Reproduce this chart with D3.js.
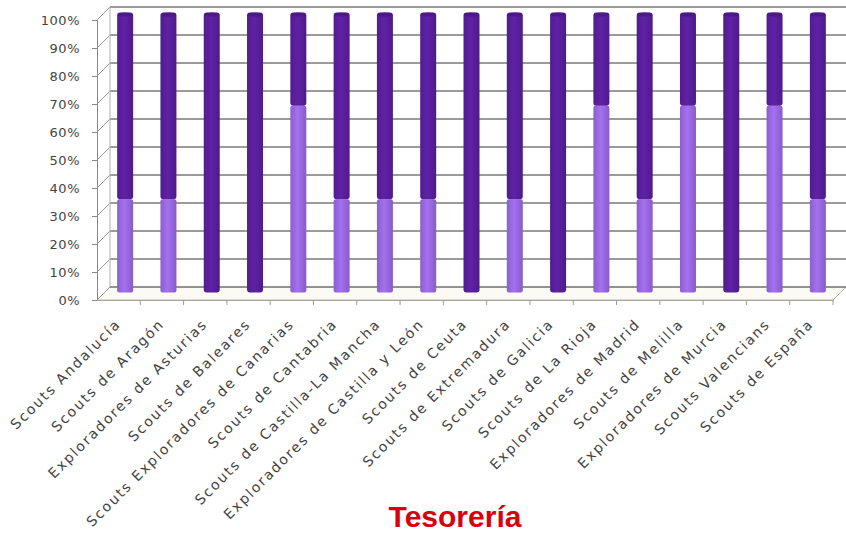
<!DOCTYPE html>
<html>
<head>
<meta charset="utf-8">
<script src="https://cdn.jsdelivr.net/npm/d3@7"></script>
<style>
  html, body { margin: 0; padding: 0; background: #fff; overflow: hidden; }
  svg { display: block; }
  .lbl { font-family: "DejaVu Sans", sans-serif; fill: #444; }
</style>
</head>
<body>
<svg id="chart" width="846" height="534"></svg>
<script>
const categories = [
  'Scouts Andalucía', 'Scouts de Aragón', 'Exploradores de Asturias', 'Scouts de Baleares',
  'Scouts Exploradores de Canarias', 'Scouts de Cantabria', 'Scouts de Castilla-La Mancha',
  'Exploradores de Castilla y León', 'Scouts de Ceuta', 'Scouts de Extremadura',
  'Scouts de Galicia', 'Scouts de La Rioja', 'Exploradores de Madrid', 'Scouts de Melilla',
  'Exploradores de Murcia', 'Scouts Valencians', 'Scouts de España'
];
const lowerValues = [33.3, 33.3, 0, 0, 66.7, 33.3, 33.3, 33.3, 0, 33.3, 0, 66.7, 33.3, 66.7, 0, 66.7, 33.3];
const upperValues = [66.7, 66.7, 100, 100, 33.3, 66.7, 66.7, 66.7, 100, 66.7, 100, 33.3, 66.7, 33.3, 100, 33.3, 66.7];
const yTicks = [0, 10, 20, 30, 40, 50, 60, 70, 80, 90, 100];
const seriesColors = ['#9c6ae4', '#5a1f9e'];

const svg = d3.select('#chart');
const mLeft = 97, mRight = 833, mBottom = 300, mTop = 20;
const depth = 13; // 3d offset of back wall

const x = d3.scaleBand().domain(categories).range([mLeft, mRight]).padding(0);
const y = d3.scaleLinear().domain([0, 100]).range([mBottom, mTop]);

const rows = categories.map((c, i) => ({ cat: c, lower: lowerValues[i], upper: upperValues[i] }));
const stacked = d3.stack().keys(['lower', 'upper'])(rows);

// floor
svg.append('path')
  .attr('d', `M${mLeft},${mBottom} L${mRight},${mBottom} L${mRight + depth},${mBottom - depth} L${mLeft + depth},${mBottom - depth} Z`)
  .attr('fill', '#fbfbf4').attr('stroke', '#b8b8b0').attr('stroke-width', 1);

// back wall gridlines and slanted side-wall lines
const grid = svg.append('g');
yTicks.forEach(t => {
  const yy = y(t);
  grid.append('line')
    .attr('x1', mLeft + depth).attr('x2', 846)
    .attr('y1', yy - depth).attr('y2', yy - depth)
    .attr('stroke', '#7a7a7a').attr('stroke-width', 1.3);
  grid.append('line')
    .attr('x1', mLeft).attr('x2', mLeft + depth)
    .attr('y1', yy).attr('y2', yy - depth)
    .attr('stroke', '#9a9a9a').attr('stroke-width', 1);
});
grid.append('line')
  .attr('x1', mLeft + depth).attr('x2', mLeft + depth)
  .attr('y1', y(0) - depth).attr('y2', y(100) - depth)
  .attr('stroke', '#b0b0b0');

// front y axis
const yAxis = d3.axisLeft(y).tickValues(yTicks).tickSize(5).tickFormat(d => d + '%');
const yg = svg.append('g').attr('transform', `translate(${mLeft},0)`).call(yAxis);
yg.select('.domain').attr('stroke', '#8a8a8a');
yg.selectAll('.tick line').attr('stroke', '#8a8a8a');
yg.selectAll('.tick text')
  .attr('class', 'lbl')
  .attr('x', -17)
  .style('font-size', '13px')
  .style('letter-spacing', '0.5px');

// front x axis
const xAxis = d3.axisBottom(x).tickSize(0).tickFormat('');
const xg = svg.append('g').attr('transform', `translate(0,${mBottom})`).call(xAxis);
xg.select('.domain').attr('stroke', '#a8a8a0');
svg.append('g').selectAll('line')
  .data(categories.slice(1).concat(['_end']))
  .join('line')
  .attr('x1', d => d === '_end' ? mRight : x(d))
  .attr('x2', d => d === '_end' ? mRight : x(d))
  .attr('y1', mBottom).attr('y2', mBottom + 5)
  .attr('stroke', '#9a9a9a');

// bars (cylinders) at half depth
const half = depth / 2;
const bw = 16;
const defs = svg.append('defs');
seriesColors.forEach((c, i) => {
  const g = defs.append('linearGradient').attr('id', 'g' + i);
  g.append('stop').attr('offset', '0%').attr('stop-color', d3.color(c).darker(0.3));
  g.append('stop').attr('offset', '45%').attr('stop-color', d3.color(c).brighter(0.15));
  g.append('stop').attr('offset', '100%').attr('stop-color', d3.color(c).darker(0.4));
});

const barG = svg.append('g');
stacked.forEach((s, si) => {
  barG.selectAll(null)
    .data(s.filter(d => d[1] - d[0] > 0))
    .join('rect')
    .attr('x', d => x(d.data.cat) + x.bandwidth() / 2 + half - bw / 2)
    .attr('y', d => y(d[1]) - half - 1)
    .attr('width', bw)
    .attr('height', d => y(d[0]) - y(d[1]))
    .attr('rx', si === 1 ? 3 : 2)
    .attr('fill', `url(#g${si})`);
});
// top caps
barG.selectAll(null)
  .data(stacked[1])
  .join('ellipse')
  .attr('cx', d => x(d.data.cat) + x.bandwidth() / 2 + half)
  .attr('cy', d => y(d[1]) - half + 1)
  .attr('rx', bw / 2 - 0.5).attr('ry', 2)
  .attr('fill', d3.color(seriesColors[1]).darker(0.5));

// category labels
svg.append('g').selectAll('text')
  .data(categories)
  .join('text')
  .attr('class', 'lbl')
  .attr('text-anchor', 'end')
  .attr('transform', d => `translate(${x(d) + x.bandwidth() / 2 + 3},${mBottom + 25}) rotate(-45)`)
  .style('font-size', '14px')
  .style('letter-spacing', '1.8px')
  .text(d => d);

// title
svg.append('text')
  .attr('x', 455).attr('y', 527)
  .attr('text-anchor', 'middle')
  .style('font-family', '"Liberation Sans", Arial, sans-serif')
  .style('font-weight', 'bold')
  .style('font-size', '30px')
  .attr('fill', '#d9000d')
  .text('Tesorería');
</script>
</body>
</html>
